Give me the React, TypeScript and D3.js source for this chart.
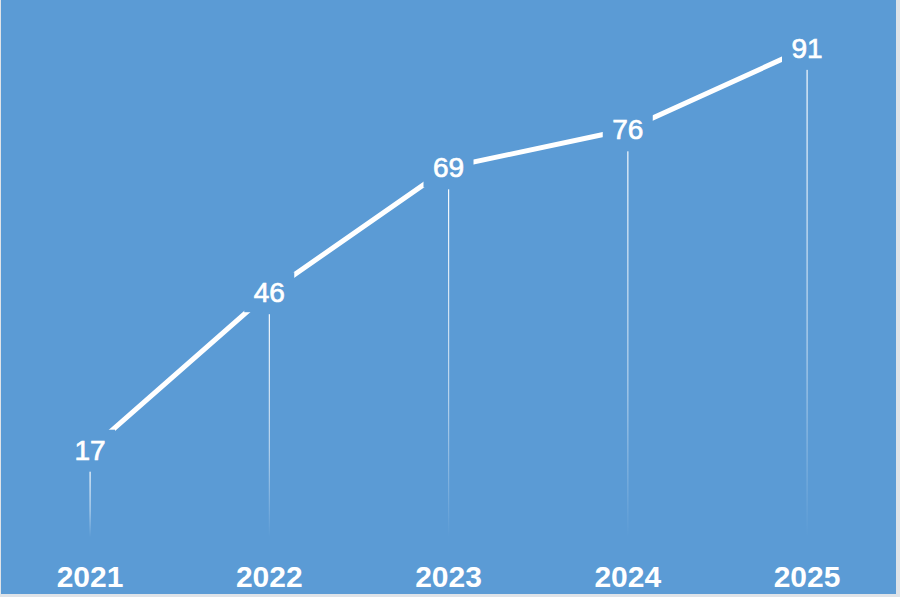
import React from "react";
import * as d3 from "d3";

const years = ["2021", "2022", "2023", "2024", "2025"];
const values = [17, 46, 69, 76, 91];

const W = 900;
const H = 597;
const BG = "#5b9bd5";

export default function App() {
  const x = d3.scalePoint<string>().domain(years).range([90, 807]);
  const y = d3.scaleLinear().domain([0, 100]).range([542, -1]);
  const pts: [number, number][] = values.map((v, i) => [x(years[i]) as number, y(v)]);
  const line = d3.line<[number, number]>().x((d) => d[0]).y((d) => d[1]);
  return (
    <svg
      width={W}
      height={H}
      style={{ position: "absolute", left: 0, top: 0, display: "block" }}
      fontFamily="'Liberation Sans', Arial, sans-serif"
    >
      <defs>
        <linearGradient id="fade" x1="0" y1="0" x2="0" y2="1">
          <stop offset="0" stopColor="#ffffff" stopOpacity={0.95} />
          <stop offset="0.6" stopColor="#ffffff" stopOpacity={0.55} />
          <stop offset="1" stopColor="#ffffff" stopOpacity={0} />
        </linearGradient>
        <mask id="gaps" maskUnits="userSpaceOnUse" x={0} y={0} width={W} height={H}>
          <rect x={0} y={0} width={W} height={H} fill="#fff" />
          {pts.map((p, i) => (
            <rect key={i} x={p[0] - 25} y={p[1] - 20} width={50} height={40} fill="#000" />
          ))}
        </mask>
      </defs>
      <rect x={0} y={0} width={W} height={H} fill="#dfe3e8" />
      <rect x={1} y={0} width={895} height={594} fill={BG} />
      {pts.map((p, i) => (
        <rect
          key={"v" + i}
          x={p[0] - 0.5}
          y={p[1] + 22}
          width={1.2}
          height={y(0) - 5 - (p[1] + 22)}
          fill="url(#fade)"
        />
      ))}
      <path
        d={line(pts) || ""}
        fill="none"
        stroke="#ffffff"
        strokeWidth={5}
        mask="url(#gaps)"
      />
      {pts.map((p, i) => (
        <text
          key={"t" + i}
          x={p[0]}
          y={p[1] + 10}
          textAnchor="middle"
          fill="#ffffff"
          stroke="#ffffff"
          strokeWidth={0.7}
          fontSize={28}
        >
          {values[i]}
        </text>
      ))}
      {years.map((yr) => (
        <text
          key={yr}
          x={x(yr) as number}
          y={587}
          textAnchor="middle"
          fill="#ffffff"
          fontSize={30}
          fontWeight="bold"
        >
          {yr}
        </text>
      ))}
    </svg>
  );
}
